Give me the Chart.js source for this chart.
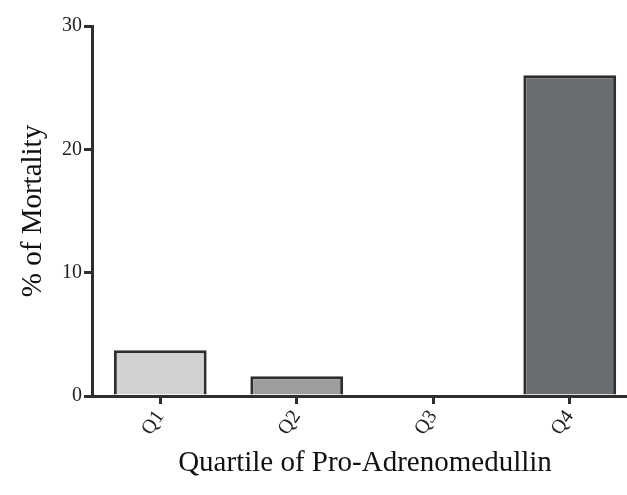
<!DOCTYPE html>
<html>
<head>
<meta charset="utf-8">
<script src="https://cdn.jsdelivr.net/npm/chart.js@4"></script>
<style>
  html, body { margin: 0; padding: 0; background: #fff; overflow: hidden; }
  #wrap { width: 650px; height: 495px; }
</style>
</head>
<body>
<div id="wrap"><canvas id="mortaliteChart" width="650" height="495"></canvas></div>
<script>
'use strict';
// donnees
const quartiles = ['Q1', 'Q2', 'Q3', 'Q4'];
const mortalite = [3.7, 1.6, 0, 26];
const couleurs = ['#cfd1d3', '#9b9d9f', '#9b9d9f', '#6a6d70'];
const ticksY = [0, 10, 20, 30];

const police = '"Liberation Serif", "DejaVu Serif", serif';
const encre = '#2e2e2e';

const ctx = document.getElementById('mortaliteChart').getContext('2d');

const mortaliteChart = new Chart(ctx, {
  type: 'bar',
  data: {
    labels: quartiles,
    datasets: [{
      data: mortalite,
      backgroundColor: couleurs,
      borderColor: encre,
      borderWidth: 3,
      borderSkipped: 'bottom',
      categoryPercentage: 1,
      barPercentage: 0.68
    }]
  },
  options: {
    responsive: false,
    animation: false,
    layout: { padding: { top: 26, left: 10, right: 12, bottom: 0 } },
    plugins: { legend: { display: false }, tooltip: { enabled: false } },
    scales: {
      x: {
        offset: true,
        grid: { offset: false, drawOnChartArea: false, drawTicks: true, tickLength: 8, color: encre, lineWidth: 3 },
        border: { display: true, color: encre, width: 3 },
        ticks: {
          color: '#222', font: { family: police, size: 20 },
          minRotation: 55, maxRotation: 55, padding: 2
        },
        title: {
          display: true, text: 'Quartile of Pro-Adrenomedullin',
          color: '#111', font: { family: police, size: 29 }, padding: { top: 20, bottom: 14 }
        },
        afterFit: scale => { scale.height = 99; }
      },
      y: {
        min: 0, max: 30,
        afterBuildTicks: scale => { scale.ticks = ticksY.map(v => ({ value: v })); },
        grid: { drawOnChartArea: false, drawTicks: true, tickLength: 8, color: encre, lineWidth: 3 },
        border: { display: true, color: encre, width: 3 },
        ticks: { color: '#222', font: { family: police, size: 20 }, padding: 2 },
        title: {
          display: true, text: '% of Mortality',
          color: '#111', font: { family: police, size: 29 }, padding: { top: 6, bottom: 10 }
        },
        afterFit: scale => { scale.width = 82; }
      }
    }
  }
});
</script>
</body>
</html>
